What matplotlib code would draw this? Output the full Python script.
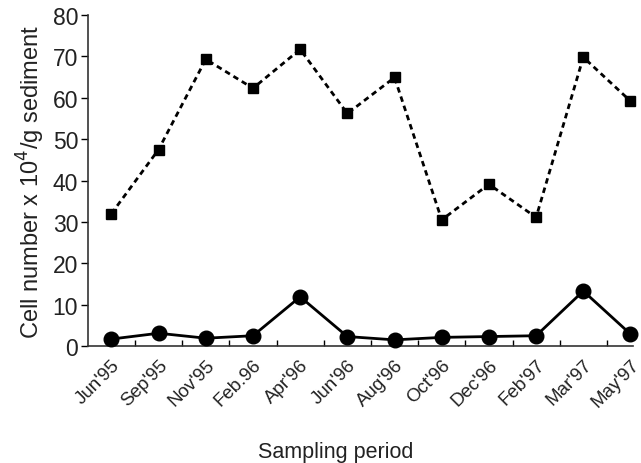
import numpy as np
import matplotlib
matplotlib.use("Agg")
import matplotlib.pyplot as plt
import matplotlib.transforms as mtransforms
from matplotlib.ticker import FixedLocator

plt.rcParams["font.family"] = ["Liberation Sans", "DejaVu Sans"]

periods = ["Jun'95", "Sep'95", "Nov'95", "Feb.96", "Apr'96", "Jun'96",
           "Aug'96", "Oct'96", "Dec'96", "Feb'97", "Mar'97", "May'97"]
squares = [32.0, 47.5, 69.3, 62.3, 71.7, 56.2, 64.9, 30.5, 39.1, 31.1, 69.8, 59.2]
circles = [1.7, 3.1, 1.9, 2.5, 11.9, 2.3, 1.5, 2.1, 2.3, 2.5, 13.3, 2.9]

x = np.arange(len(periods))

fig = plt.figure(figsize=(6.41, 4.64), dpi=100)
ax = fig.add_axes([0.137, 0.252, 0.851, 0.7135])

ax.plot(x, squares, color="black", linestyle=(0, (2.0, 1.5)), linewidth=2,
        marker="s", markersize=7, clip_on=False, zorder=3)
ax.plot(x, circles, color="black", linestyle="-", linewidth=2,
        marker="o", markersize=10.5, clip_on=False, zorder=3)

ax.set_xlim(-0.5, 11.06)
ax.set_ylim(0, 80)
ax.set_yticks(np.arange(0, 81, 10))
ax.set_xticks(x)
ax.set_xticklabels(periods, rotation=45, ha="right", rotation_mode="anchor",
                   fontsize=13.5, color="#222222")
shift = mtransforms.ScaledTranslation(-5 / 100, 0, fig.dpi_scale_trans)
for lbl in ax.get_xticklabels():
    lbl.set_transform(lbl.get_transform() + shift)
ax.xaxis.set_minor_locator(FixedLocator(x[:-1] + 0.5))
ax.tick_params(axis="x", which="major", length=0, pad=7)
ax.tick_params(axis="x", which="minor", direction="in", length=4, width=1)
ax.tick_params(axis="y", which="major", direction="out", length=5, width=1,
               labelsize=16.5, labelcolor="#222222", pad=2)

for side in ["top", "right"]:
    ax.spines[side].set_visible(False)
for side in ["left", "bottom"]:
    ax.spines[side].set_linewidth(1.2)
    ax.spines[side].set_color("#333333")

ax.set_ylabel("Cell number x 10$^4$/g sediment", fontsize=17, color="#222222",
              labelpad=4)
ax.set_xlabel("Sampling period", fontsize=15.5, color="#222222")
ax.xaxis.label.set_va("baseline")
ax.xaxis.set_label_coords(0.455, -0.335)

fig.savefig("out.png", dpi=100)
